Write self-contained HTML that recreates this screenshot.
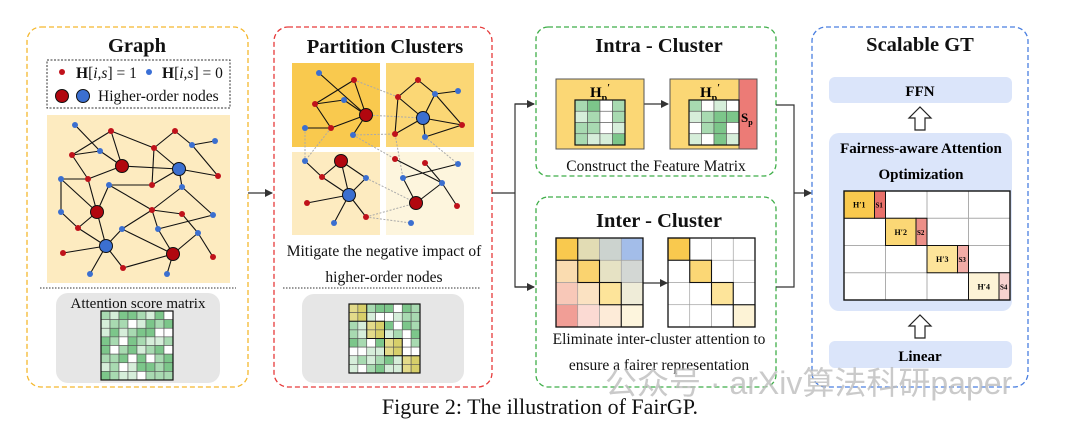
<!DOCTYPE html>
<html><head><meta charset="utf-8"><style>
html,body{margin:0;padding:0;background:#fff;}
svg{display:block;font-family:"Liberation Serif",serif;}
</style></head><body>
<svg id="s" width="1080" height="423" viewBox="0 0 1080 423" xmlns="http://www.w3.org/2000/svg">
<defs>
<marker id="ar" markerWidth="8" markerHeight="8" refX="7" refY="4" orient="auto" markerUnits="userSpaceOnUse"><path d="M0,0 L8,4 L0,8 z" fill="#333"/></marker>
</defs>
<rect x="27" y="27" width="221" height="360" rx="14" fill="none" stroke="#f5b82e" stroke-width="1.3" stroke-dasharray="5,3"/>
<rect x="274" y="27" width="218" height="360" rx="14" fill="none" stroke="#e63a3a" stroke-width="1.3" stroke-dasharray="5,3"/>
<rect x="536" y="27" width="240" height="149" rx="12" fill="none" stroke="#3fae49" stroke-width="1.3" stroke-dasharray="5,3"/>
<rect x="536" y="197" width="240" height="190" rx="12" fill="none" stroke="#3fae49" stroke-width="1.3" stroke-dasharray="5,3"/>
<rect x="812" y="27" width="216" height="360" rx="14" fill="none" stroke="#4a7fe0" stroke-width="1.3" stroke-dasharray="5,3"/>

<g font-weight="bold" font-size="20.5" text-anchor="middle" fill="#111">
<text x="137" y="52">Graph</text>
<text x="385" y="53">Partition Clusters</text>
<text x="659" y="52">Intra - Cluster</text>
<text x="659" y="227">Inter - Cluster</text>
<text x="920" y="51">Scalable  GT</text>
</g>

<rect x="47" y="60" width="183" height="48" fill="none" stroke="#333" stroke-dasharray="2,1.5"/>
<circle cx="62" cy="72" r="3" fill="#c0121b"/>
<text x="76" y="78" font-size="15.5" fill="#111"><tspan font-weight="bold">H</tspan>[<tspan font-style="italic">i,s</tspan>] = 1</text>
<circle cx="149" cy="72" r="3" fill="#3a6fd6"/>
<text x="162" y="78" font-size="15.5" fill="#111"><tspan font-weight="bold">H</tspan>[<tspan font-style="italic">i,s</tspan>] = 0</text>
<circle cx="62" cy="96" r="6.5" fill="#b1070f" stroke="#111"/>
<circle cx="83" cy="96" r="6.5" fill="#3b6fd0" stroke="#111"/>
<text x="98" y="101" font-size="15.5" fill="#111">Higher-order nodes</text>
<rect x="47" y="115" width="183" height="168" fill="#fdebc0"/>
<g id="g1"></g>
<line x1="40" y1="288" x2="236" y2="288" stroke="#333" stroke-dasharray="1.5,1.5"/>
<rect x="56" y="293" width="164" height="90" rx="12" fill="#e6e6e6"/>
<text x="138" y="308" font-size="15" text-anchor="middle" fill="#111">Attention score matrix</text>
<g id="m1"></g>

<rect x="292" y="63" width="88" height="84" fill="#f9c94e"/>
<rect x="386" y="63" width="88" height="84" fill="#fbd775"/>
<rect x="292" y="152" width="88" height="83" fill="#fdebc0"/>
<rect x="386" y="152" width="88" height="83" fill="#fdf5dd"/>
<g id="g2"></g>
<text x="384" y="256" font-size="15.5" text-anchor="middle" fill="#111">Mitigate the negative impact of</text>
<text x="384" y="282" font-size="15.5" text-anchor="middle" fill="#111">higher-order nodes</text>
<line x1="283" y1="288" x2="480" y2="288" stroke="#333" stroke-dasharray="1.5,1.5"/>
<rect x="302" y="294" width="162" height="89" rx="12" fill="#e6e6e6"/>
<g id="m2"></g>

<g stroke="#333" stroke-width="1.2" fill="none">
<line x1="248" y1="193" x2="272" y2="193" marker-end="url(#ar)"/>
<polyline points="492,193 515,193"/>
<polyline points="534,104 515,104 515,287 534,287"/>
<line x1="515" y1="104" x2="534" y2="104" marker-end="url(#ar)"/>
<line x1="515" y1="287" x2="534" y2="287" marker-end="url(#ar)"/>
<polyline points="776,105 794,105 794,287 776,287"/>
<line x1="794" y1="193" x2="811" y2="193" marker-end="url(#ar)"/>
<line x1="644" y1="104" x2="668" y2="104" marker-end="url(#ar)"/>
<line x1="643" y1="283" x2="667" y2="283" marker-end="url(#ar)"/>
</g>

<rect x="556" y="79" width="88" height="70" fill="#fbd775" stroke="#555"/>
<rect x="670" y="79" width="69" height="70" fill="#fbd775" stroke="#555"/>
<rect x="739" y="79" width="18" height="70" fill="#ec7b76" stroke="#555"/>
<text x="600" y="97" font-size="15" font-weight="bold" text-anchor="middle">H<tspan font-size="10" dy="4">p</tspan><tspan font-size="10" dy="-10">′</tspan></text>
<text x="710" y="97" font-size="15" font-weight="bold" text-anchor="middle">H<tspan font-size="10" dy="4">p</tspan><tspan font-size="10" dy="-10">′</tspan></text>
<text x="741" y="122" font-size="13" font-weight="bold">S<tspan font-size="8" dy="3">p</tspan></text>
<g id="m3"></g>
<text x="656" y="171" font-size="15.5" text-anchor="middle" fill="#111">Construct the Feature Matrix</text>

<g id="m4"></g>
<text x="659" y="344" font-size="15.5" text-anchor="middle" fill="#111">Eliminate inter-cluster attention to</text>
<text x="659" y="370" font-size="15.5" text-anchor="middle" fill="#111">ensure a fairer representation</text>

<rect x="829" y="77" width="183" height="26" rx="6" fill="#dbe5fa"/>
<text x="920" y="96" font-size="15" font-weight="bold" text-anchor="middle">FFN</text>
<path d="M915,130 L915,118 L909,118 L920,107 L931,118 L925,118 L925,130 Z" fill="#fff" stroke="#222" stroke-width="1.2"/>
<rect x="829" y="133" width="183" height="178" rx="10" fill="#dbe5fa"/>
<text x="921" y="153" font-size="15" font-weight="bold" text-anchor="middle">Fairness-aware Attention</text>
<text x="921" y="179" font-size="15" font-weight="bold" text-anchor="middle">Optimization</text>
<g id="m5"></g>
<path d="M915,338 L915,326 L909,326 L920,315 L931,326 L925,326 L925,338 Z" fill="#fff" stroke="#222" stroke-width="1.2"/>
<rect x="829" y="341" width="183" height="27" rx="6" fill="#dbe5fa"/>
<text x="920" y="361" font-size="15" font-weight="bold" text-anchor="middle">Linear</text>

<text x="605" y="394" font-size="32" fill="#bdbdbd" opacity="0.8" font-family="'Liberation Sans','Noto Sans CJK SC',sans-serif">公众号 · arXiv算法科研paper</text>
<text x="540" y="414" font-size="22" text-anchor="middle" fill="#111">Figure 2: The illustration of FairGP.</text>
</svg>
<script>
var NS="http://www.w3.org/2000/svg";
function el(p,t,a){var e=document.createElementNS(NS,t);for(var k in a)e.setAttribute(k,a[k]);document.getElementById(p).appendChild(e);return e;}
var N=[[75,125,0,0],[111,131,1,0],[175,131,1,0],[100,151,0,0],[72,155,1,0],[154,148,1,0],[192,145,0,0],[215,141,0,0],[122,166,1,1],[179,169,0,1],[218,176,1,0],[61,179,0,0],[88,179,1,0],[109,185,0,0],[152,185,1,0],[182,187,0,0],[97,212,1,1],[61,212,0,0],[152,210,1,0],[182,214,1,0],[213,215,0,0],[78,228,1,0],[122,229,0,0],[158,229,0,0],[198,233,0,0],[106,246,0,1],[173,254,1,1],[63,253,1,0],[213,257,1,0],[123,268,1,0],[90,274,0,0],[167,274,0,0]];
var E=[[0,3],[1,4],[1,8],[1,5],[4,3],[4,12],[2,5],[2,6],[6,7],[6,10],[5,14],[5,9],[8,9],[8,12],[9,10],[9,15],[11,12],[11,17],[12,16],[13,14],[13,18],[13,16],[11,16],[14,9],[15,18],[15,20],[16,21],[16,25],[17,21],[18,22],[18,23],[18,19],[19,24],[20,23],[21,25],[22,25],[22,26],[23,26],[24,28],[25,27],[25,29],[25,30],[26,29],[26,31],[24,26],[3,8]];
E.forEach(function(e){el("g1","line",{x1:N[e[0]][0],y1:N[e[0]][1],x2:N[e[1]][0],y2:N[e[1]][1],stroke:"#111","stroke-width":1.1});});
N.forEach(function(n){el("g1","circle",{cx:n[0],cy:n[1],r:n[3]?6.5:3,fill:n[2]?(n[3]?"#b1070f":"#c0121b"):"#3b6fd0",stroke:n[3]?"#111":"none"});});
var P=[[319,73,0,0],[354,80,1,0],[315,104,1,0],[344,100,0,0],[366,115,1,1],[331,128,1,0],[305,128,0,0],[353,135,0,0],
[418,80,1,0],[398,97,1,0],[435,94,0,0],[458,91,0,0],[423,118,0,1],[462,125,1,0],[395,134,1,0],[425,137,0,0],
[305,161,0,0],[341,161,1,1],[322,177,1,0],[366,178,0,0],[349,195,0,1],[307,203,1,0],[366,217,1,0],[334,223,0,0],
[395,159,1,0],[425,163,1,0],[458,164,0,0],[403,178,0,0],[442,183,0,0],[416,203,1,1],[457,206,1,0],[411,223,0,0]];
var D=[[1,9],[4,12],[6,16],[5,16],[7,24],[15,26],[19,29],[22,29],[22,31],[7,14],[14,27]];
D.forEach(function(e){el("g2","line",{x1:P[e[0]][0],y1:P[e[0]][1],x2:P[e[1]][0],y2:P[e[1]][1],stroke:"#aaa","stroke-width":1,"stroke-dasharray":"2,1.5"});});
var F=[[0,4],[1,2],[1,4],[2,3],[3,4],[2,5],[5,6],[5,4],[4,7],[8,9],[8,10],[10,11],[9,12],[9,14],[10,12],[10,13],[12,13],[12,14],[12,15],[15,13],[17,18],[17,19],[17,20],[18,16],[18,20],[20,21],[20,22],[20,23],[19,20],[24,28],[25,28],[26,27],[28,29],[29,27],[28,30]];
F.forEach(function(e){el("g2","line",{x1:P[e[0]][0],y1:P[e[0]][1],x2:P[e[1]][0],y2:P[e[1]][1],stroke:"#111","stroke-width":1.1});});
P.forEach(function(n){el("g2","circle",{cx:n[0],cy:n[1],r:n[3]?6.5:3,fill:n[2]?(n[3]?"#b1070f":"#c0121b"):"#3b6fd0",stroke:n[3]?"#111":"none"});});
var G=["#7cc68a","#a8dab1","#d6eeda","#ffffff"];
function grid(p,x,y,w,h,n,seed,hl){var cw=w/n,ch=h/n,s=seed;
for(var i=0;i<n;i++)for(var j=0;j<n;j++){s=(s*9301+49297)%233280;var c=G[Math.floor(s/233280*4)];
if(hl&&Math.floor(i/2)==Math.floor(j/2))c=(s%2)?"#d7cf6a":"#e3db8a";
el(p,"rect",{x:x+j*cw,y:y+i*ch,width:cw,height:ch,fill:c,stroke:"#555","stroke-width":0.6});}
el(p,"rect",{x:x,y:y,width:w,height:h,fill:"none",stroke:"#111","stroke-width":1.2});
if(hl)for(var k=0;k<n/2;k++)el(p,"rect",{x:x+k*2*cw,y:y+k*2*ch,width:2*cw,height:2*ch,fill:"none",stroke:"#111","stroke-width":1});}
grid("m1",101,311,72,69,8,7,false);
grid("m2",349,304,71,69,8,11,true);
grid("m3",575,100,50,45,4,3,false);
grid("m3",689,100,50,45,4,5,false);
var C1=[["#f9c94e","#e2dcb4","#ccd3cf","#a3bde9"],["#fadcb0","#fad36f","#e6e2c4","#d3d7d4"],["#f8c8b8","#fbe2c2","#fde49a","#efecd8"],["#f19e96","#fbdad3","#fdebd8","#fdf5dd"]];
var dg=["#f9c94e","#fbd775","#fde49a","#fdf3d6"];
for(var i=0;i<4;i++)for(var j=0;j<4;j++){
el("m4","rect",{x:556+j*21.75,y:238+i*22.25,width:21.75,height:22.25,fill:C1[i][j],stroke:"#999","stroke-width":0.6});
el("m4","rect",{x:668+j*21.75,y:238+i*22.25,width:21.75,height:22.25,fill:i==j?dg[i]:"#fff",stroke:"#999","stroke-width":0.6});}
for(var k=0;k<4;k++){el("m4","rect",{x:556+k*21.75,y:238+k*22.25,width:21.75,height:22.25,fill:"none",stroke:"#111","stroke-width":1.1});
el("m4","rect",{x:668+k*21.75,y:238+k*22.25,width:21.75,height:22.25,fill:"none",stroke:"#111","stroke-width":1.1});}
el("m4","rect",{x:556,y:238,width:87,height:89,fill:"none",stroke:"#111","stroke-width":1.3});
el("m4","rect",{x:668,y:238,width:87,height:89,fill:"none",stroke:"#111","stroke-width":1.3});
var mx=844,my=191,bw=41.5,bh=27.25,sc=["#e8706a","#ec8f88","#f2aca6","#f7d2cf"];
el("m5","rect",{x:mx,y:my,width:bw*4,height:bh*4,fill:"#fff"});
for(var i=0;i<4;i++)for(var j=0;j<4;j++)el("m5","rect",{x:mx+j*bw,y:my+i*bh,width:bw,height:bh,fill:"none",stroke:"#aaa","stroke-width":0.8});
for(var k=0;k<4;k++){var x=mx+k*bw,y=my+k*bh;
el("m5","rect",{x:x,y:y,width:bw-11,height:bh,fill:dg[k],stroke:"#111","stroke-width":1});
el("m5","rect",{x:x+bw-11,y:y,width:11,height:bh,fill:sc[k],stroke:"#111","stroke-width":1});
var t=el("m5","text",{x:x+(bw-11)/2,y:y+bh/2+3,"font-size":8,"font-weight":"bold","text-anchor":"middle"});t.textContent="H"+"′"+(k+1);
var t2=el("m5","text",{x:x+bw-10,y:y+bh/2+3,"font-size":7,"font-weight":"bold"});t2.textContent="S"+(k+1);}
el("m5","rect",{x:mx,y:my,width:bw*4,height:bh*4,fill:"none",stroke:"#111","stroke-width":1.4});
</script>
</body></html>
